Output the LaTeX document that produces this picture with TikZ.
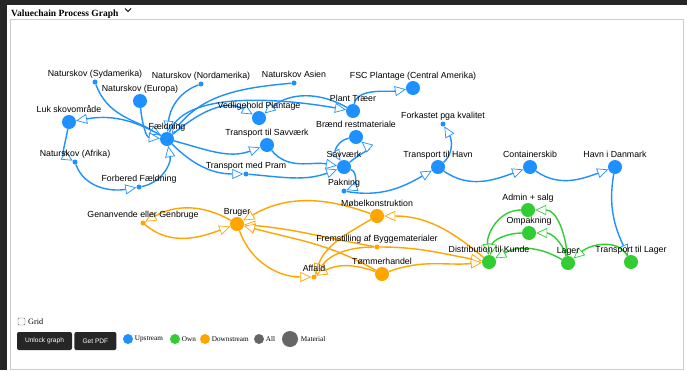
\documentclass[tikz,border=0pt]{standalone}
\usepackage{fontspec}
\setmainfont{Liberation Serif}
\setsansfont{Liberation Sans}
\usetikzlibrary{arrows.meta,positioning,backgrounds}

\definecolor{upblue}{RGB}{30,144,255}
\definecolor{owngreen}{RGB}{50,205,50}
\definecolor{downorange}{RGB}{255,165,0}
\definecolor{allgrey}{RGB}{102,102,102}
\definecolor{pagedark}{RGB}{38,38,38}
\definecolor{boxgrey}{RGB}{205,205,205}

\tikzset{
  lbl/.style={font=\sffamily\fontsize{8.8}{10}\selectfont, inner sep=0.5pt, text height=6.4pt, text depth=1.8pt},
  mat/.style={circle, inner sep=0pt, minimum size=14pt, label={[lbl]above:#1}},
  proc/.style={circle, inner sep=0pt, minimum size=5pt, label={[lbl]above:#1}},
  flow/.style={line width=1.4pt, -{Triangle[length=11pt,width=10pt,fill=white,line width=0.7pt]}},
  upflow/.style={flow, upblue},
  ownflow/.style={flow, owngreen},
  downflow/.style={flow, downorange},
  button/.style={fill=pagedark, rounded corners=2pt, text=white, font=\sffamily\fontsize{6.6}{8}\selectfont, minimum height=18pt, inner sep=0pt},
  legdot/.style={circle, inner sep=0pt, minimum size=10pt},
  legtxt/.style={font=\fontsize{7.2}{8}\selectfont, inner sep=0pt}
}

\begin{document}
\begin{tikzpicture}[x=1pt, y=-1pt]
  \useasboundingbox (0,0) rectangle (687,370);
  \begin{scope}[on background layer]
    \fill[pagedark] (0,0) rectangle (687,370);
    \fill[white] (7,5) rectangle (687,370);
    \draw[boxgrey, line width=1pt] (10,19) rectangle (683,369);
  \end{scope}
  \node[anchor=base west, inner sep=0pt, font=\bfseries\fontsize{9.5}{11}\selectfont] (title) at (11,16) {Valuechain Process Graph};
  \draw[line width=0.8pt] (125,8.5) -- (128,11.5) -- (131,8.5);

  % upstream
  \node[proc=Naturskov (Sydamerika), fill=upblue] (sydam) at (95,82) {};
  \node[proc=Naturskov (Nordamerika), fill=upblue] (nordam) at (201,84) {};
  \node[proc=Naturskov Asien, fill=upblue] (asien) at (294,83) {};
  \node[mat=Naturskov (Europa), fill=upblue] (europa) at (140,101) {};
  \node[mat=FSC Plantage (Central Amerika), fill=upblue] (fsc) at (413,88) {};
  \node[mat=Plant Træer, fill=upblue] (plant) at (353,111) {};
  \node[mat=Luk skovområde, fill=upblue] (luk) at (69,122) {};
  \node[mat=Vedligehold Plantage, fill=upblue] (vedl) at (259,118) {};
  \node[mat=Fældning, fill=upblue] (fael) at (167,139) {};
  \node[proc=Forkastet pga kvalitet, fill=upblue] (fork) at (443,124) {};
  \node[mat=Brænd restmateriale, fill=upblue] (braend) at (356,137) {};
  \node[mat=Transport til Savværk, fill=upblue] (tsav) at (267,145) {};
  \node[proc=Naturskov (Afrika), fill=upblue] (afrika) at (75,162) {};
  \node[mat=Savværk, fill=upblue] (savv) at (344,167) {};
  \node[mat=Transport til Havn, fill=upblue] (thavn) at (438,167) {};
  \node[mat=Containerskib, fill=upblue] (cont) at (530,167) {};
  \node[mat=Havn i Danmark, fill=upblue] (havndk) at (615,167) {};
  \node[proc=Transport med Pram, fill=upblue] (pram) at (246,174) {};
  \node[proc=Forbered Fældning, fill=upblue] (forb) at (139,187) {};
  \node[proc=Pakning, fill=upblue] (pak) at (344,191) {};

  % own
  \node[mat=Admin + salg, fill=owngreen] (admin) at (528,210) {};
  \node[mat=Ompakning, fill=owngreen] (omp) at (529,233) {};
  \node[mat=Distribution til Kunde, fill=owngreen] (dist) at (489,262) {};
  \node[mat=Lager, fill=owngreen] (lager) at (568,263) {};
  \node[mat=Transport til Lager, fill=owngreen] (tlager) at (631,262) {};

  % downstream
  \node[proc=Genanvende eller Genbruge, fill=downorange] (genan) at (143,223) {};
  \node[mat=Bruger, fill=downorange] (bruger) at (237,224) {};
  \node[mat=Møbelkonstruktion, fill=downorange] (mobel) at (377,216) {};
  \node[proc=Fremstilling af Byggematerialer, fill=downorange] (fremst) at (377,247) {};
  \node[proc=Affald, fill=downorange] (affald) at (314,277) {};
  \node[mat=Tømmerhandel, fill=downorange] (toemmer) at (382,274) {};

  \begin{scope}[on background layer]
    \draw[upflow] (sydam) to[out=-70,in=150] (fael);
    \draw[upflow] (nordam) to[out=200,in=85] (fael);
    \draw[upflow] (asien) to[out=185,in=50] (fael);
    \draw[upflow] (europa) to[out=-85,in=175] (fael);
    \draw[upflow] (fael) to[out=150,in=10] (luk);
    \draw[upflow] (luk) to[out=-100,in=150] (afrika);
    \draw[upflow] (afrika) to[out=-70,in=190] (forb);
    \draw[upflow] (forb) to[out=10,in=-80] (fael);
    \draw[upflow] (fael) to[out=40,in=150] (vedl);
    \draw[upflow] (fael) to[out=70,in=170,looseness=0.7] (plant);
    \draw[upflow] (plant) to[out=150,in=40] (vedl);
    \draw[upflow] (plant) to[out=80,in=190,looseness=0.8] (fsc);
    \draw[upflow] (fael) to[out=-15,in=200] (tsav);
    \draw[upflow] (fael) to[out=-45,in=180] (pram);
    \draw[upflow] (tsav) to[out=-50,in=170] (savv);
    \draw[upflow] (pram) to[out=-5,in=200] (savv);
    \draw[upflow] (savv) to[out=40,in=-40,looseness=1.2] (braend);
    \draw[upflow] (braend) to[out=190,in=120,looseness=1.2] (savv);
    \draw[upflow] (savv) to[out=-20,in=20] (pak);
    \draw[upflow] (pak) to[out=-10,in=210] (thavn);
    \draw[upflow] (thavn) to[out=40,in=-60] (fork);
    \draw[upflow] (thavn) to[out=-35,in=200] (cont);
    \draw[upflow] (cont) to[out=-35,in=200] (havndk);
    \draw[upflow] (havndk) to[out=-100,in=115] (tlager);

    \draw[ownflow] (tlager) to[out=120,in=40] (lager);
    \draw[ownflow] (lager) to[out=150,in=30] (dist);
    \draw[ownflow] (lager) to[out=95,in=0] (admin);
    \draw[ownflow] (lager) to[out=105,in=0] (omp);
    \draw[ownflow] (admin) to[out=180,in=95] (dist);
    \draw[ownflow] (omp) to[out=180,in=80] (dist);

    \draw[downflow] (mobel) to[out=160,in=30] (bruger);
    \draw[downflow] (fremst) to[out=170,in=-5] (bruger);
    \draw[downflow] (toemmer) to[out=150,in=-15] (bruger);
    \draw[downflow] (bruger) to[out=-70,in=180] (affald);
    \draw[downflow] (mobel) to[out=210,in=70] (affald);
    \draw[downflow] (fremst) to[out=180,in=55] (affald);
    \draw[downflow] (toemmer) to[out=160,in=30] (affald);
    \draw[downflow] (bruger) to[out=150,in=30] (genan);
    \draw[downflow] (genan) to[out=-40,in=200] (bruger);
    \draw[downflow] (dist) to[out=140,in=0] (mobel);
    \draw[downflow] (fremst) to[out=0,in=170] (dist);
    \draw[downflow] (toemmer) to[out=20,in=185] (dist);
  \end{scope}

  % controls
  \draw[allgrey, fill=white, rounded corners=1pt] (18,318) rectangle (25,325);
  \node[legtxt, font=\fontsize{8.2}{9}\selectfont, anchor=west] (grid) at (28,322) {Grid};
  \node[button, minimum width=55pt] (unlock) at (44.5,341) {Unlock graph};
  \node[button, minimum width=42pt, right=2pt of unlock] (pdf) {Get PDF};

  \node[legdot, fill=upblue] (lup) at (128,339) {};
  \node[legtxt, right=1.5pt of lup] (tup) {Upstream};
  \node[legdot, fill=owngreen] (lown) at (175,339) {};
  \node[legtxt, right=1.5pt of lown] (town) {Own};
  \node[legdot, fill=downorange] (ldown) at (205,339) {};
  \node[legtxt, right=1.5pt of ldown] (tdown) {Downstream};
  \node[legdot, fill=allgrey] (lall) at (259,339) {};
  \node[legtxt, right=1.5pt of lall] (tall) {All};
  \node[legdot, fill=allgrey, minimum size=16pt] (lmat) at (290,339) {};
  \node[legtxt, right=2.5pt of lmat] (tmat) {Material};
\end{tikzpicture}
\end{document}
